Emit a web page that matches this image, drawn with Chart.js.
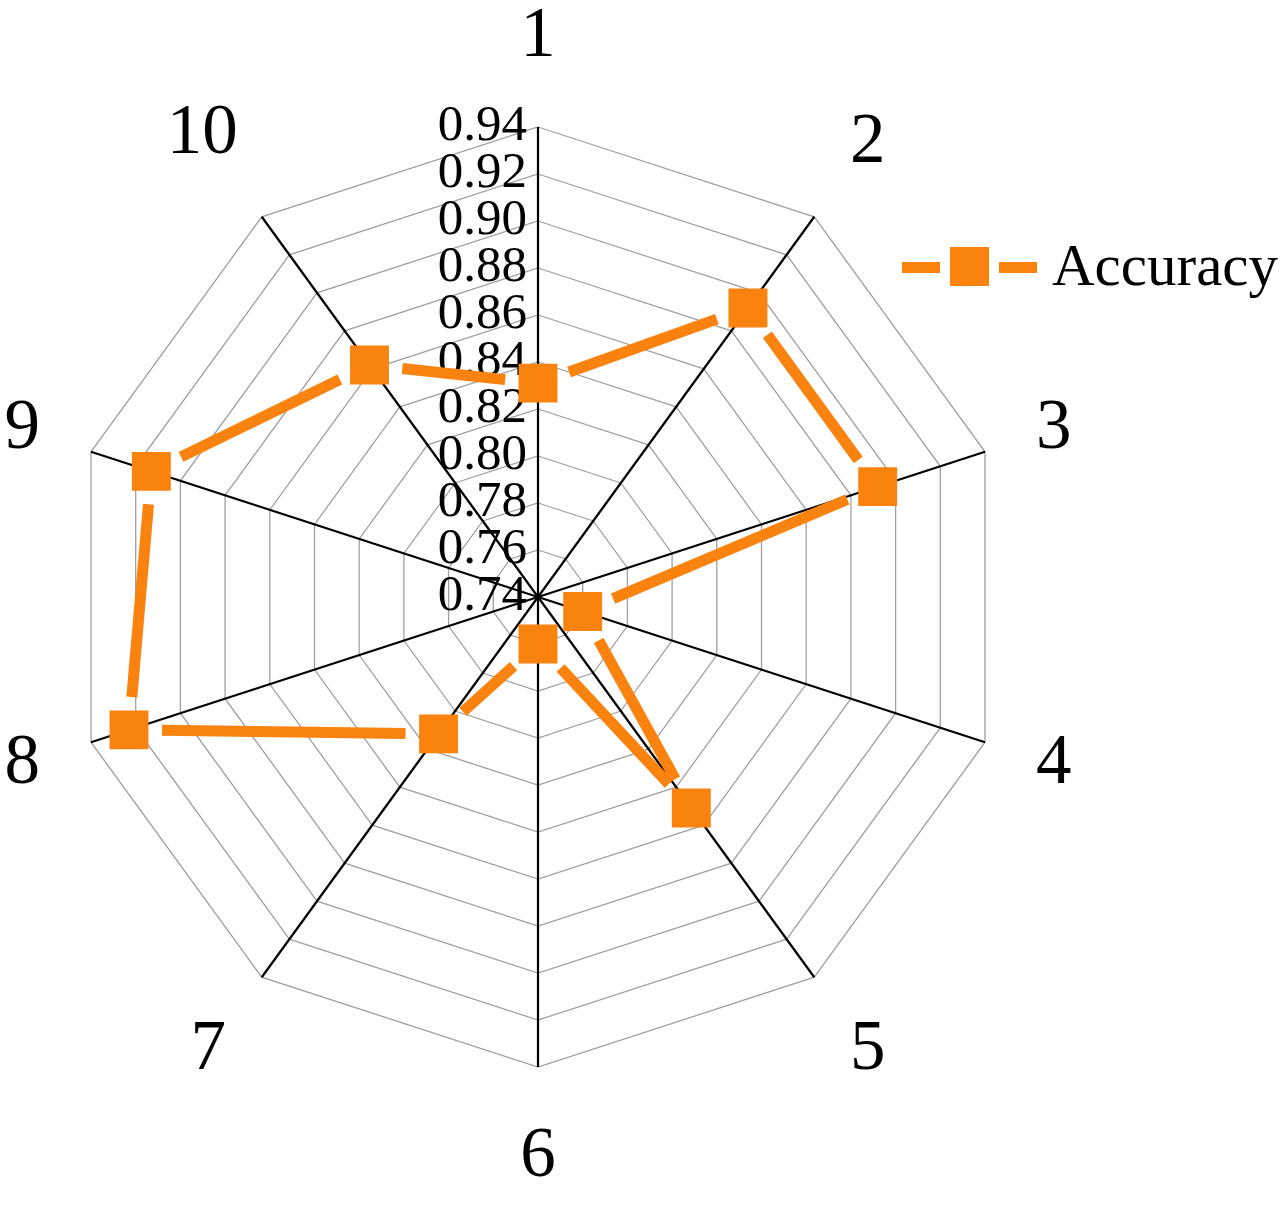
<!DOCTYPE html>
<html>
<head>
<meta charset="utf-8">
<script src="https://cdn.jsdelivr.net/npm/chart.js@4/dist/chart.umd.min.js"></script>
<style>
  html, body { margin:0; padding:0; background:#fff; }
  #wrap { position:relative; width:1283px; height:1209px; }
  #chart { position:absolute; left:0; top:0; }
  .legend { position:absolute; left:0; top:0; font-family:'Liberation Serif','Times New Roman',serif; }
  .lg-seg { position:absolute; height:11px; background:#FA820F; }
  .lg-box { position:absolute; width:39px; height:39px; background:#FA820F; }
  .lg-text { position:absolute; left:1052px; top:236px; font-size:59px; line-height:59px; color:#000; white-space:nowrap; }
</style>
</head>
<body>
<div id="wrap">
  <canvas id="chart" width="1283" height="1209"></canvas>
  <div class="legend">
    <div class="lg-seg" style="left:902px;top:262px;width:38px"></div>
    <div class="lg-box" style="left:950px;top:247px"></div>
    <div class="lg-seg" style="left:999px;top:262px;width:38px"></div>
    <div class="lg-text" id="lgText"></div>
  </div>
</div>
<script>
// data
const categories = ['1','2','3','4','5','6','7','8','9','10'];
const seriesName = 'Accuracy';
const accuracy = [0.831, 0.892, 0.892, 0.760, 0.851, 0.760, 0.812, 0.923, 0.913, 0.862];
const tickMin = 0.74, tickMax = 0.94, tickStep = 0.02;

const ORANGE = '#FA820F';
const SERIF = "'Liberation Serif','Times New Roman',serif";

document.getElementById('lgText').innerText = seriesName;

// tick labels + point labels placed Excel-style, and the line drawn with gaps at the markers
const excelRadar = {
  id: 'excelRadar',
  beforeDatasetsDraw(chart){
    const ctx = chart.ctx;
    const r = chart.scales.r;
    ctx.save();

    // value labels, just left of the first spoke
    ctx.fillStyle = '#000';
    ctx.font = '51px ' + SERIF;
    ctx.textAlign = 'right';
    ctx.textBaseline = 'middle';
    r.ticks.forEach(t => {
      const d = r.getDistanceFromCenterForValue(t.value);
      ctx.fillText(t.value.toFixed(2), r.xCenter - 11, r.yCenter - d);
    });

    // category labels, centred on the spoke direction
    ctx.font = '71px ' + SERIF;
    ctx.textAlign = 'center';
    categories.forEach((lab, i) => {
      const ang = r.getIndexAngle(i);
      const w = ctx.measureText(lab).width;
      const dist = r.drawingArea + 40 + Math.abs(Math.sin(ang)) * w / 2 + Math.abs(Math.cos(ang)) * 50;
      const p = r.getPointPosition(i, dist);
      ctx.fillText(lab, p.x, p.y);
    });

    // line segments, trimmed so they stop short of each marker
    chart.data.datasets.forEach((ds, di) => {
      const pts = chart.getDatasetMeta(di).data;
      const trim = 33;
      ctx.strokeStyle = ORANGE;
      ctx.lineWidth = 11;
      ctx.lineCap = 'butt';
      for(let i=0;i<pts.length;i++){
        const a = pts[i], b = pts[(i+1)%pts.length];
        const dx = b.x - a.x, dy = b.y - a.y;
        const len = Math.hypot(dx, dy);
        if(len <= trim*2) continue;
        const ux = dx/len, uy = dy/len;
        ctx.beginPath();
        ctx.moveTo(a.x + ux*trim, a.y + uy*trim);
        ctx.lineTo(b.x - ux*trim, b.y - uy*trim);
        ctx.stroke();
      }
    });
    ctx.restore();
  }
};

new Chart(document.getElementById('chart'), {
  type: 'radar',
  data: {
    labels: categories,
    datasets: [{
      label: seriesName,
      data: accuracy,
      showLine: false,
      fill: false,
      pointStyle: 'rect',
      pointRadius: 27.5,
      pointHoverRadius: 27.5,
      pointBackgroundColor: ORANGE,
      pointBorderWidth: 0
    }]
  },
  options: {
    responsive: false,
    animation: false,
    layout: { padding: { left: 68, right: 275, top: 127, bottom: 142 } },
    plugins: { legend: { display: false }, tooltip: { enabled: false } },
    scales: {
      r: {
        min: tickMin,
        max: tickMax,
        ticks: { stepSize: tickStep, display: false },
        grid: { circular: false, color: '#a0a0a0', lineWidth: 1.3 },
        angleLines: { color: '#000', lineWidth: 2.2 },
        pointLabels: { display: false }
      }
    }
  },
  plugins: [excelRadar]
});
</script>
</body>
</html>
